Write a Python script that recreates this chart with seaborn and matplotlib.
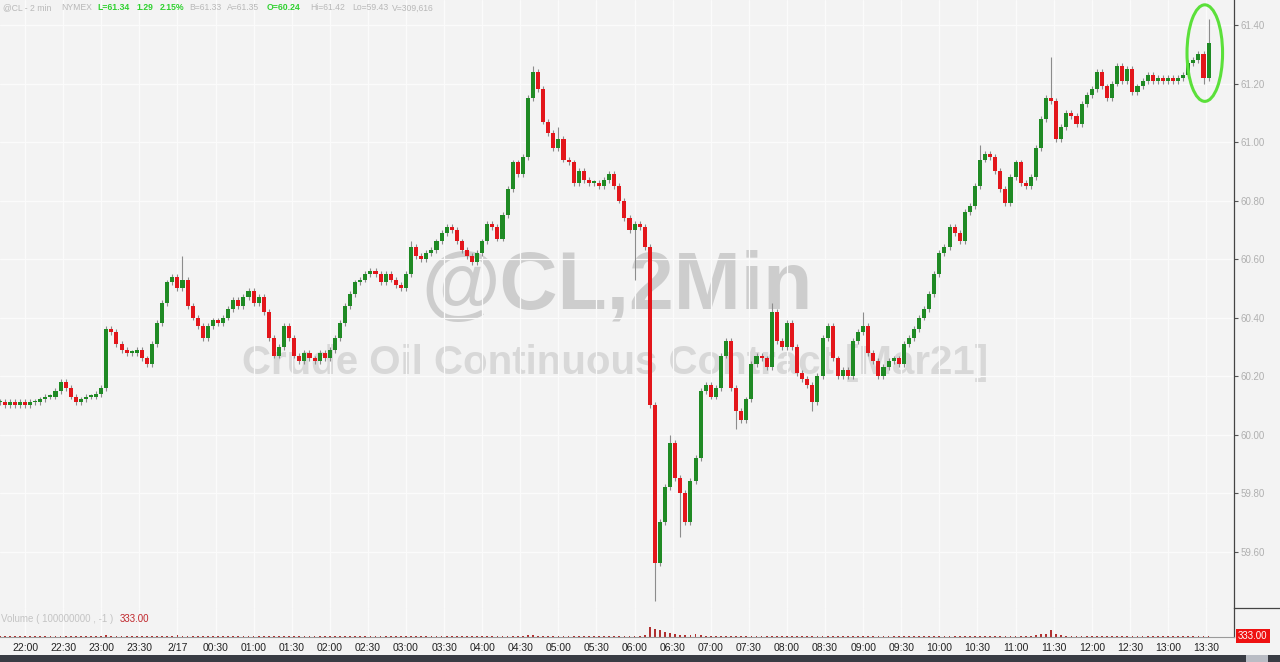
import numpy as np
import pandas as pd
import matplotlib
matplotlib.use("Agg")
import matplotlib.pyplot as plt
from matplotlib.patches import Ellipse, Rectangle
from matplotlib.lines import Line2D
import seaborn as sns

# 4-minute closes from 21:40 to 13:32, one row per hour
closes = [
    60.11, 60.10, 60.11, 60.10, 60.11, 60.10, 60.11, 60.11, 60.12, 60.13, 60.13, 60.15, 60.18, 60.16, 60.13,
    60.11, 60.12, 60.13, 60.13, 60.14, 60.16, 60.36, 60.35, 60.31, 60.29, 60.28, 60.28, 60.29, 60.26, 60.24,
    60.31, 60.38, 60.45, 60.52, 60.54, 60.50, 60.53, 60.44, 60.40, 60.37, 60.33, 60.37, 60.39, 60.38, 60.40,
    60.43, 60.46, 60.44, 60.47, 60.49, 60.45, 60.47, 60.42, 60.33, 60.27, 60.30, 60.37, 60.33, 60.27, 60.25,
    60.28, 60.26, 60.25, 60.28, 60.26, 60.29, 60.33, 60.38, 60.44, 60.48, 60.52, 60.53, 60.55, 60.56, 60.55,
    60.52, 60.55, 60.53, 60.51, 60.50, 60.55, 60.64, 60.61, 60.60, 60.62, 60.63, 60.66, 60.69, 60.71, 60.70,
    60.66, 60.63, 60.61, 60.59, 60.62, 60.66, 60.72, 60.71, 60.67, 60.75, 60.84, 60.93, 60.89, 60.95, 61.15,
    61.24, 61.18, 61.07, 61.03, 60.98, 61.01, 60.94, 60.93, 60.86, 60.90, 60.87, 60.86, 60.86, 60.85, 60.87,
    60.89, 60.85, 60.80, 60.74, 60.70, 60.72, 60.71, 60.64, 60.10, 59.56, 59.70, 59.82, 59.97, 59.85, 59.80,
    59.70, 59.84, 59.92, 60.15, 60.17, 60.13, 60.16, 60.27, 60.32, 60.16, 60.08, 60.05, 60.12, 60.24, 60.27,
    60.26, 60.23, 60.42, 60.32, 60.30, 60.38, 60.30, 60.21, 60.19, 60.17, 60.11, 60.20, 60.33, 60.37, 60.26,
    60.20, 60.22, 60.20, 60.32, 60.35, 60.37, 60.28, 60.25, 60.20, 60.23, 60.25, 60.26, 60.24, 60.31, 60.33,
    60.36, 60.40, 60.43, 60.48, 60.55, 60.62, 60.64, 60.71, 60.69, 60.66, 60.76, 60.78, 60.85, 60.94, 60.96,
    60.95, 60.90, 60.84, 60.79, 60.88, 60.93, 60.86, 60.85, 60.88, 60.98, 61.08, 61.15, 61.14, 61.01, 61.05,
    61.10, 61.09, 61.06, 61.13, 61.16, 61.18, 61.24, 61.19, 61.15, 61.20, 61.26, 61.21, 61.25, 61.17, 61.19,
    61.21, 61.23, 61.21, 61.22, 61.21, 61.22, 61.21, 61.22, 61.23, 61.27, 61.28, 61.30, 61.22, 61.34,
]
first_open = 60.11

# longer wicks that stand out
wick_high = {36: 60.61, 81: 60.66, 105: 61.26, 110: 61.05, 132: 60.00, 152: 60.45,
             170: 60.42, 193: 60.99, 207: 61.29, 238: 61.42}
wick_low = {125: 60.53, 129: 59.43, 134: 59.65, 145: 60.02, 160: 60.08, 237: 61.20}

volume = [
    1, 1, 1, 1, 1, 1, 1, 1, 1, 1, 1, 1, 1, 1, 1,
    1, 1, 1, 1, 1, 1, 2, 1, 1, 1, 1, 1, 1, 1, 1,
    1, 1, 1, 1, 1, 2, 1, 1, 1, 1, 1, 1, 1, 1, 1,
    1, 1, 1, 1, 1, 1, 1, 1, 1, 1, 1, 1, 1, 1, 1,
    1, 1, 1, 1, 1, 1, 1, 1, 1, 1, 1, 1, 1, 1, 1,
    1, 1, 1, 1, 1, 1, 1, 1, 1, 1, 1, 1, 1, 1, 1,
    1, 1, 1, 1, 1, 1, 1, 1, 1, 1, 1, 1, 1, 1, 2,
    2, 1, 1, 1, 1, 1, 1, 1, 1, 1, 1, 1, 1, 1, 1,
    1, 1, 1, 1, 1, 1, 1, 2, 10, 8, 7, 5, 4, 3, 2,
    2, 2, 3, 2, 1, 1, 1, 1, 1, 1, 1, 1, 1, 1, 1,
    1, 1, 1, 1, 1, 1, 1, 1, 1, 1, 1, 1, 1, 1, 1,
    1, 1, 1, 1, 1, 1, 1, 1, 1, 1, 1, 1, 1, 1, 1,
    1, 1, 1, 1, 1, 1, 1, 1, 1, 1, 1, 1, 1, 1, 1,
    1, 1, 1, 1, 1, 1, 1, 1, 1, 2, 3, 3, 7, 3, 2,
    1, 1, 1, 1, 1, 1, 1, 1, 1, 1, 1, 1, 1, 1, 1,
    1, 1, 1, 1, 1, 1, 1, 1, 1, 1, 1, 1, 1, 1,
]

time_labels = ["22:00", "22:30", "23:00", "23:30", "2/17", "00:30", "01:00", "01:30",
               "02:00", "02:30", "03:00", "03:30", "04:00", "04:30", "05:00", "05:30",
               "06:00", "06:30", "07:00", "07:30", "08:00", "08:30", "09:00", "09:30",
               "10:00", "10:30", "11:00", "11:30", "12:00", "12:30", "13:00", "13:30"]
price_ticks = [59.60, 59.80, 60.00, 60.20, 60.40, 60.60, 60.80, 61.00, 61.20, 61.40]

GRAY_TXT = "#b8b8b8"
GREEN_TXT = "#2fd12f"
header = [
    (0.002, "@CL - 2 min", GRAY_TXT), (0.048, "NYMEX", GRAY_TXT),
    (0.076, "L=61.34", GREEN_TXT), (0.107, "1.29", GREEN_TXT), (0.125, "2.15%", GREEN_TXT),
    (0.148, "B=61.33", GRAY_TXT), (0.177, "A=61.35", GRAY_TXT), (0.208, "O=60.24", GREEN_TXT),
    (0.242, "Hi=61.42", GRAY_TXT), (0.275, "Lo=59.43", GRAY_TXT), (0.306, "V=309,616", GRAY_TXT),
]

BG = "#f3f3f3"
UP = "#1f8a24"
DOWN = "#e3161b"

sns.set_theme(style="white", rc={"axes.facecolor": BG, "figure.facecolor": BG})
plt.rcParams["font.family"] = ["Liberation Sans", "DejaVu Sans"]

df = pd.DataFrame({"close": closes})
df["t"] = -20 + 4 * np.arange(len(df))
df["open"] = df["close"].shift(1).fillna(first_open)
df["body_lo"] = df[["open", "close"]].min(axis=1)
df["body_hi"] = df[["open", "close"]].max(axis=1)
df["high"] = df["body_hi"] + 0.01
df["low"] = df["body_lo"] - 0.01
for k, v in wick_high.items():
    df.loc[k, "high"] = v
for k, v in wick_low.items():
    df.loc[k, "low"] = v
df["up"] = df["close"] >= df["open"]
df["volume"] = volume

fig = plt.figure(figsize=(12.8, 6.62), dpi=100)
W, H = 1280, 662
ax = fig.add_axes([0, 1 - 608 / H, 1234 / W, 608 / H])
axv = fig.add_axes([0, 1 - 637 / H, 1234 / W, 29 / H])

xlim = (-19.7, 952)
ticks = np.arange(0, 31 * 30 + 1, 30)

# main price panel
ax.set_xlim(*xlim)
ax.set_ylim(59.407, 61.4855)
ax.set_xticks(ticks)
ax.set_xticklabels([])
ax.tick_params(axis="x", length=0)
ax.yaxis.tick_right()
ax.set_yticks(price_ticks)
ax.set_yticklabels([f"{p:.2f}" for p in price_ticks], color="#b0b0b0", fontsize=7)
ax.tick_params(axis="y", direction="out", length=3, width=0.8, color="#555555", pad=2)
ax.grid(True, color="#fbfbfb", lw=0.9)
for s in ["top", "left", "bottom"]:
    ax.spines[s].set_visible(False)
ax.spines["right"].set_color("#444444")
ax.spines["right"].set_linewidth(0.9)

# watermark
fig.text(617 / W, 1 - 288 / H, "@CL,2Min", fontsize=58, fontweight="bold",
         color="#cdcdcd", ha="center", va="center", zorder=0)
fig.text(615 / W, 1 - 363 / H, "Crude Oil Continuous Contract [Mar21]", fontsize=29,
         fontweight="bold", color="#d8d8d8", ha="center", va="center", zorder=0)
ax.set_zorder(2)
ax.patch.set_alpha(0)
fig.patch.set_facecolor(BG)

colors = np.where(df["up"], UP, DOWN)
ax.vlines(df["t"], df["low"], df["high"], color="#8c8c8c", lw=0.8, zorder=2)
ax.bar(df["t"], np.maximum(df["body_hi"] - df["body_lo"], 0.006), bottom=df["body_lo"],
       width=3.2, color=colors, linewidth=0, zorder=3)

ax.add_patch(Ellipse((929, 61.304), 28, 0.33, fill=False, edgecolor="#5be03a", lw=2.2, zorder=4))

# volume panel
axv.set_xlim(*xlim)
axv.set_ylim(0, 29)
axv.bar(df["t"], df["volume"], width=1.4, color="#b03030", linewidth=0)
axv.set_xticks(ticks)
axv.set_xticklabels(time_labels, fontsize=7.5, color="#222222")
axv.tick_params(axis="x", length=0, pad=4)
axv.set_yticks([])
axv.grid(True, axis="x", color="#fbfbfb", lw=0.9)
for s in ["top", "left"]:
    axv.spines[s].set_visible(False)
axv.spines["bottom"].set_color("#9a9a9a")
axv.spines["bottom"].set_linewidth(0.8)
axv.spines["right"].set_color("#444444")
axv.spines["right"].set_linewidth(0.9)
axv.patch.set_alpha(0)
axv.text(0.001, 0.62, "Volume ( 100000000 , -1 )", transform=axv.transAxes, fontsize=7,
         color="#c4c4c4", va="center")
axv.text(0.097, 0.62, "333.00", transform=axv.transAxes, fontsize=7, color="#c0262b",
         va="center")

# header line
for x, s, c in header:
    fig.text(x, 1 - 8 / H, s, fontsize=6.2, color=c, va="center",
             fontweight="bold" if c == GREEN_TXT else "normal")

# pane separator on the right scale and last value tag
fig.add_artist(Line2D([1234 / W, 1], [1 - 608 / H, 1 - 608 / H], color="#444444", lw=0.9))
fig.text(1238 / W, 1 - 636 / H, "333.00", fontsize=7, color="white", va="center",
         bbox=dict(boxstyle="square,pad=0.25", facecolor="#ee1111", edgecolor="none"))

# bottom bar
fig.add_artist(Rectangle((0, 0), 1, 7 / H, transform=fig.transFigure, facecolor="#393c44",
                         edgecolor="none"))
fig.add_artist(Rectangle((1246 / W, 0), 22 / W, 7 / H, transform=fig.transFigure,
                         facecolor="#b9bcc4", edgecolor="none"))

fig.savefig("out.png", dpi=100, facecolor=BG)
